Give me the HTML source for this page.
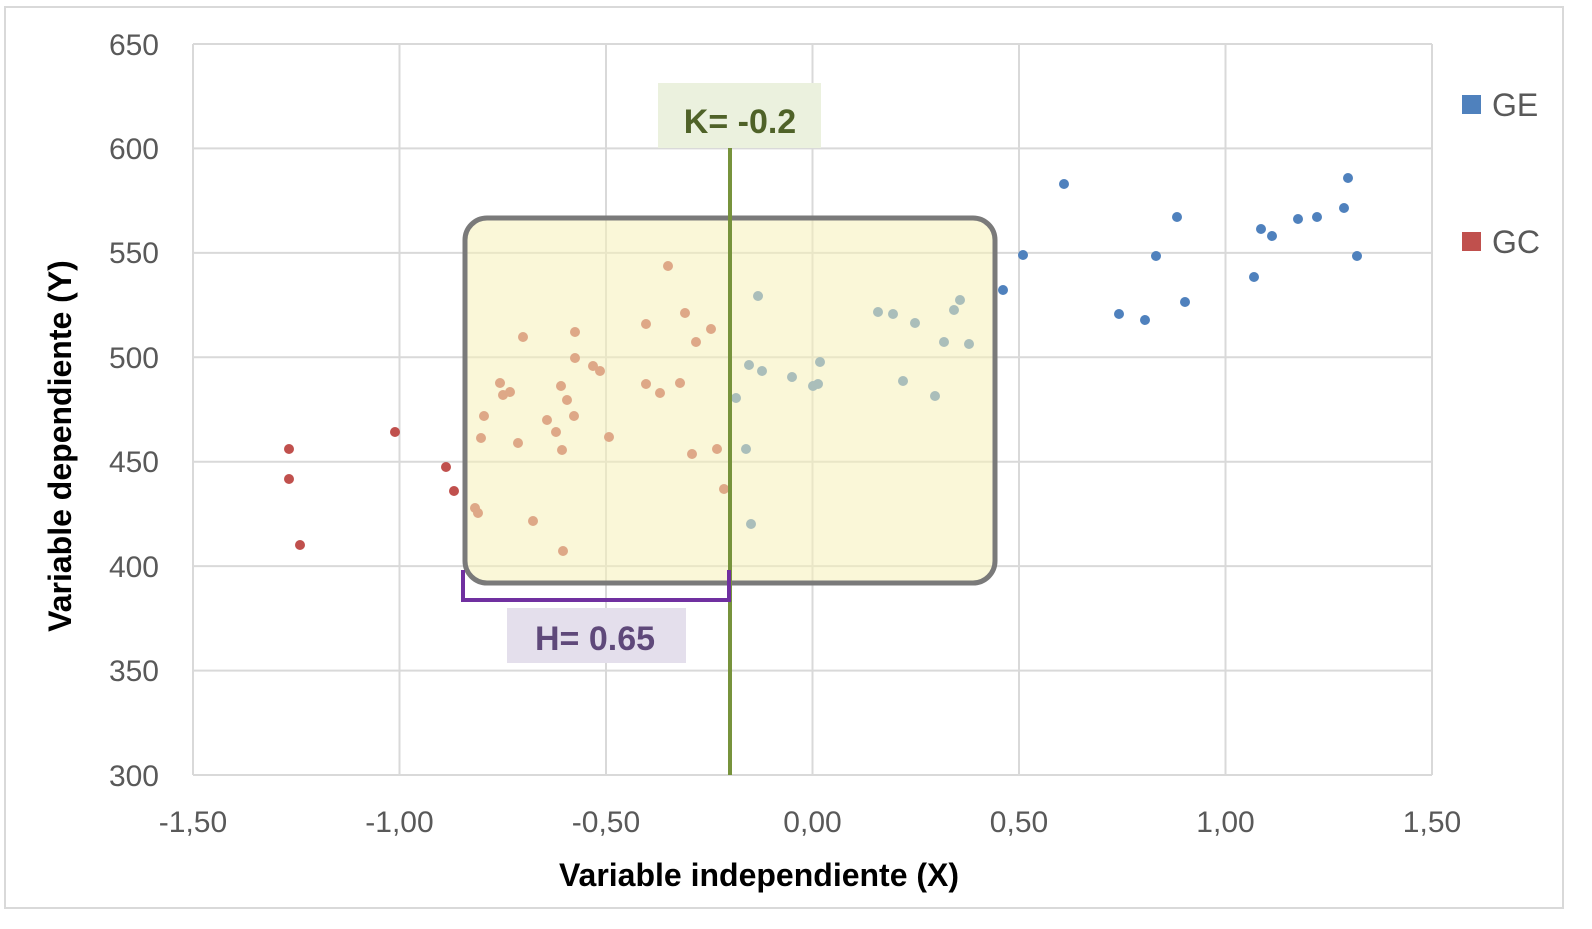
<!DOCTYPE html>
<html><head><meta charset="utf-8"><style>
html,body{margin:0;padding:0;background:#fff;overflow:hidden;}
svg{display:block;font-family:"Liberation Sans",sans-serif;}
</style></head><body>
<svg width="1592" height="929" viewBox="0 0 1592 929" xmlns="http://www.w3.org/2000/svg">
<rect x="5" y="7" width="1558" height="901" fill="#fff" stroke="#d9d9d9" stroke-width="2"/>
<g stroke="#d9d9d9" stroke-width="2">
<line x1="193" y1="44" x2="1432" y2="44"/>
<line x1="193" y1="148.4" x2="1432" y2="148.4"/>
<line x1="193" y1="252.9" x2="1432" y2="252.9"/>
<line x1="193" y1="357.3" x2="1432" y2="357.3"/>
<line x1="193" y1="461.7" x2="1432" y2="461.7"/>
<line x1="193" y1="566.1" x2="1432" y2="566.1"/>
<line x1="193" y1="670.6" x2="1432" y2="670.6"/>
<line x1="193" y1="775" x2="1432" y2="775"/>
<line x1="193" y1="44" x2="193" y2="775"/>
<line x1="399.5" y1="44" x2="399.5" y2="775"/>
<line x1="606" y1="44" x2="606" y2="775"/>
<line x1="812.5" y1="44" x2="812.5" y2="775"/>
<line x1="1019" y1="44" x2="1019" y2="775"/>
<line x1="1225.5" y1="44" x2="1225.5" y2="775"/>
<line x1="1432" y1="44" x2="1432" y2="775"/>
</g>
<g font-size="30" fill="#595959" text-anchor="end">
<text x="159" y="55">650</text><text x="159" y="159">600</text><text x="159" y="263">550</text>
<text x="159" y="368">500</text><text x="159" y="472">450</text><text x="159" y="577">400</text>
<text x="159" y="681">350</text><text x="159" y="786">300</text>
</g>
<g font-size="30" fill="#595959" text-anchor="middle">
<text x="193" y="832">-1,50</text><text x="399.5" y="832">-1,00</text><text x="606" y="832">-0,50</text>
<text x="812.5" y="832">0,00</text><text x="1019" y="832">0,50</text><text x="1225.5" y="832">1,00</text><text x="1432" y="832">1,50</text>
</g>
<text x="759" y="886" font-size="32" font-weight="bold" text-anchor="middle" fill="#000">Variable independiente (X)</text>
<text transform="translate(71,446) rotate(-90)" font-size="32" font-weight="bold" text-anchor="middle" fill="#000">Variable dependiente (Y)</text>
<g fill="#c0504d">
<circle cx="289" cy="449" r="5"/><circle cx="289" cy="479" r="5"/><circle cx="300" cy="545" r="5"/><circle cx="395" cy="432" r="5"/><circle cx="446" cy="467" r="5"/><circle cx="454" cy="491" r="5"/><circle cx="475" cy="508" r="5"/><circle cx="478" cy="513" r="5"/><circle cx="481" cy="438" r="5"/><circle cx="484" cy="416" r="5"/><circle cx="500" cy="383" r="5"/><circle cx="503" cy="395" r="5"/><circle cx="510" cy="392" r="5"/><circle cx="518" cy="443" r="5"/><circle cx="523" cy="337" r="5"/><circle cx="533" cy="521" r="5"/><circle cx="547" cy="420" r="5"/><circle cx="556" cy="432" r="5"/><circle cx="561" cy="386" r="5"/><circle cx="562" cy="450" r="5"/><circle cx="563" cy="551" r="5"/><circle cx="567" cy="400" r="5"/><circle cx="574" cy="416" r="5"/><circle cx="575" cy="332" r="5"/><circle cx="575" cy="358" r="5"/><circle cx="593" cy="366" r="5"/><circle cx="600" cy="371" r="5"/><circle cx="609" cy="437" r="5"/><circle cx="646" cy="324" r="5"/><circle cx="646" cy="384" r="5"/><circle cx="660" cy="393" r="5"/><circle cx="668" cy="266" r="5"/><circle cx="680" cy="383" r="5"/><circle cx="685" cy="313" r="5"/><circle cx="692" cy="454" r="5"/><circle cx="696" cy="342" r="5"/><circle cx="711" cy="329" r="5"/><circle cx="717" cy="449" r="5"/><circle cx="724" cy="489" r="5"/>
</g>
<g fill="#4f81bd">
<circle cx="736" cy="398" r="5"/><circle cx="746" cy="449" r="5"/><circle cx="749" cy="365" r="5"/><circle cx="751" cy="524" r="5"/><circle cx="758" cy="296" r="5"/><circle cx="762" cy="371" r="5"/><circle cx="792" cy="377" r="5"/><circle cx="813" cy="386" r="5"/><circle cx="818" cy="384" r="5"/><circle cx="820" cy="362" r="5"/><circle cx="878" cy="312" r="5"/><circle cx="893" cy="314" r="5"/><circle cx="903" cy="381" r="5"/><circle cx="915" cy="323" r="5"/><circle cx="935" cy="396" r="5"/><circle cx="944" cy="342" r="5"/><circle cx="954" cy="310" r="5"/><circle cx="960" cy="300" r="5"/><circle cx="969" cy="344" r="5"/><circle cx="1003" cy="290" r="5"/><circle cx="1023" cy="255" r="5"/><circle cx="1064" cy="184" r="5"/><circle cx="1119" cy="314" r="5"/><circle cx="1145" cy="320" r="5"/><circle cx="1156" cy="256" r="5"/><circle cx="1177" cy="217" r="5"/><circle cx="1185" cy="302" r="5"/><circle cx="1254" cy="277" r="5"/><circle cx="1261" cy="229" r="5"/><circle cx="1272" cy="236" r="5"/><circle cx="1298" cy="219" r="5"/><circle cx="1317" cy="217" r="5"/><circle cx="1344" cy="208" r="5"/><circle cx="1348" cy="178" r="5"/><circle cx="1357" cy="256" r="5"/>
</g>
<rect x="465" y="218" width="530" height="365" rx="22" ry="22" fill="#f6f0b8" fill-opacity="0.55" stroke="#7a7a7a" stroke-width="5"/>
<line x1="730" y1="148" x2="730" y2="775" stroke="#77933c" stroke-width="4"/>
<rect x="658" y="83" width="163" height="65" fill="#ebf1de"/>
<text x="740" y="133" font-size="34" font-weight="bold" text-anchor="middle" fill="#4f6228">K= -0.2</text>
<path d="M463 570 V600 H729 V570" fill="none" stroke="#7030a0" stroke-width="4"/>
<rect x="507" y="608" width="179" height="55" fill="#e4dfec"/>
<text x="595" y="650" font-size="34" font-weight="bold" text-anchor="middle" fill="#5f497a">H= 0.65</text>
<rect x="1462" y="95" width="19" height="19" fill="#4f81bd"/>
<text x="1492" y="116" font-size="32" fill="#595959">GE</text>
<rect x="1462" y="232" width="19" height="19" fill="#c0504d"/>
<text x="1492" y="253" font-size="32" fill="#595959">GC</text>
</svg>
</body></html>
